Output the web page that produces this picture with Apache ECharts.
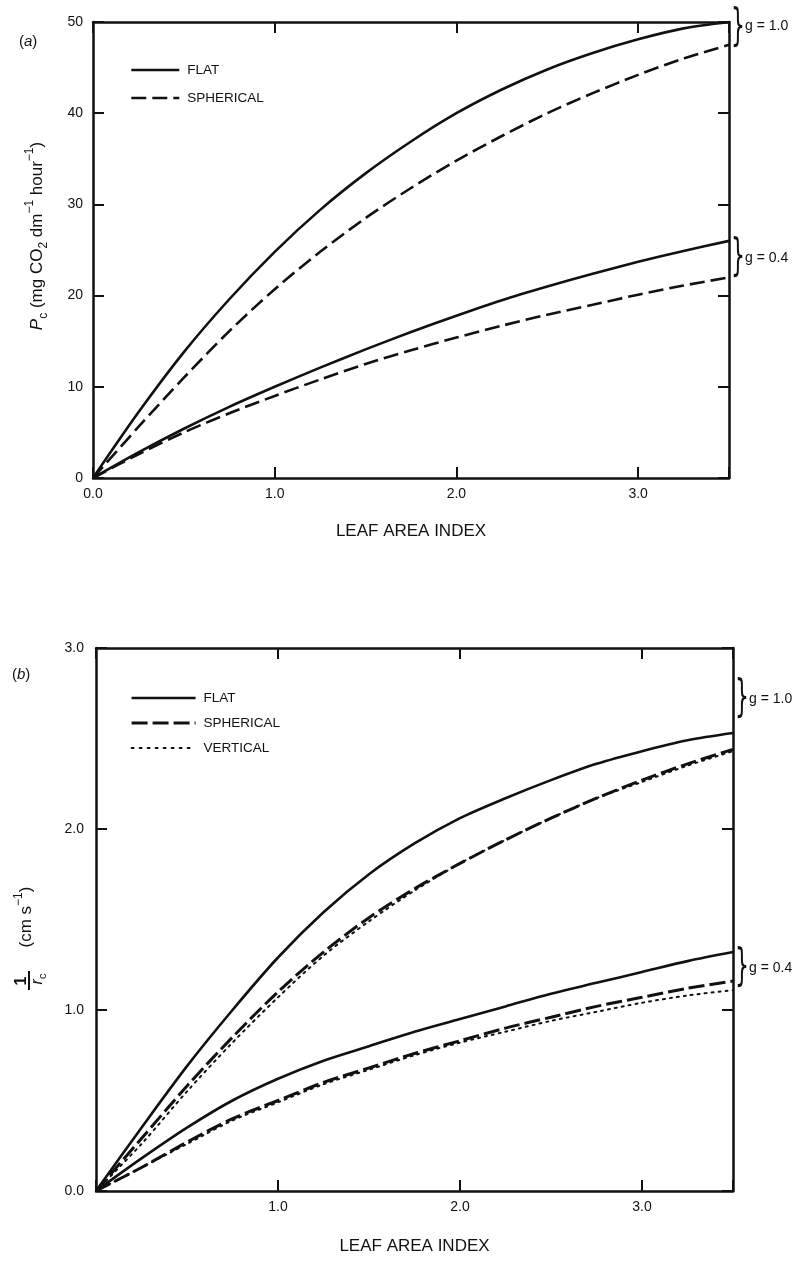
<!DOCTYPE html>
<html><head><meta charset="utf-8">
<script src="https://cdn.jsdelivr.net/npm/echarts@6/dist/echarts.min.js"></script>
<style>html,body{margin:0;padding:0;background:#fff}#c{width:809px;height:1261px}</style>
</head><body><div id="c"></div><script>
// Leaf area index sample points
const lai = [0, 0.25, 0.5, 0.75, 1.0, 1.25, 1.5, 1.75, 2.0, 2.25, 2.5, 2.75, 3.0, 3.25, 3.5];
// Panel (a): canopy photosynthesis Pc
const aFlatG10 = [0, 7.2, 13.8, 19.6, 24.8, 29.4, 33.4, 36.9, 40.0, 42.6, 44.8, 46.6, 48.1, 49.3, 50.0];
const aSphG10  = [0, 5.6, 11.0, 16.1, 20.7, 24.8, 28.5, 31.8, 34.8, 37.5, 40.0, 42.2, 44.2, 46.0, 47.5];
const aFlatG04 = [0, 2.8, 5.4, 7.8, 10.0, 12.1, 14.1, 16.0, 17.8, 19.5, 21.0, 22.4, 23.7, 24.9, 26.0];
const aSphG04  = [0, 2.6, 5.0, 7.1, 9.0, 10.8, 12.5, 14.0, 15.4, 16.7, 17.9, 19.0, 20.1, 21.1, 22.0];
// Panel (b): canopy conductance 1/rc
const bFlatG10 = [0, 0.35, 0.69, 1.0, 1.29, 1.54, 1.75, 1.92, 2.06, 2.17, 2.27, 2.36, 2.43, 2.49, 2.53];
const bSphG10  = [0, 0.29, 0.58, 0.85, 1.1, 1.32, 1.51, 1.67, 1.81, 1.94, 2.06, 2.17, 2.27, 2.36, 2.44];
const bVerG10  = [0, 0.26, 0.55, 0.82, 1.07, 1.3, 1.49, 1.66, 1.81, 1.94, 2.06, 2.17, 2.26, 2.35, 2.43];
const bFlatG04 = [0, 0.18, 0.35, 0.5, 0.62, 0.72, 0.8, 0.88, 0.95, 1.02, 1.09, 1.15, 1.21, 1.27, 1.32];
const bSphG04  = [0, 0.13, 0.27, 0.4, 0.5, 0.6, 0.68, 0.76, 0.83, 0.9, 0.96, 1.02, 1.07, 1.12, 1.16];
const bVerG04  = [0, 0.13, 0.26, 0.39, 0.49, 0.59, 0.67, 0.75, 0.82, 0.88, 0.94, 0.99, 1.04, 1.08, 1.11];
// Tick labels
const xTicks = [0, 1, 2, 3];
const aYTicks = [0, 10, 20, 30, 40, 50];
const bYTicks = [0, 1, 2, 3];
const legendA = ['FLAT', 'SPHERICAL'];
const legendB = ['FLAT', 'SPHERICAL', 'VERTICAL'];

const FONT = 'Liberation Sans, Arial, sans-serif';
const BLACK = '#111';
const zip = ys => lai.map((x, i) => [x, ys[i]]);

const chart = echarts.init(document.getElementById('c'), null, {renderer: 'canvas'});

function baseAxis(extra) {
  return Object.assign({
    type: 'value',
    axisLine: {show: true, onZero: false, lineStyle: {color: BLACK, width: 2.5}},
    axisTick: {show: true, inside: true, length: 11, lineStyle: {color: BLACK, width: 2}},
    splitLine: {show: false},
    axisLabel: {color: BLACK, fontFamily: FONT, fontSize: 14}
  }, extra);
}

const solid = {color: BLACK, width: 2.6, type: 'solid'};
const dashed = {color: BLACK, width: 2.6, type: [15, 6]};
const dashedB = {color: BLACK, width: 3, type: [16, 5]};
const dotted = {color: BLACK, width: 2, type: [2, 5], cap: 'round'};

function line(name, xi, ys, ls) {
  return {name, type: 'line', xAxisIndex: xi, yAxisIndex: xi, data: zip(ys), smooth: 0.3,
    showSymbol: false, symbol: 'none', lineStyle: ls, color: BLACK, silent: true, z: 3};
}

const nameStyle = {color: BLACK, fontFamily: FONT, fontSize: 17};
const legendText = {color: BLACK, fontFamily: FONT, fontSize: 13.5, padding: [0, 0, 0, 3]};
const hiddenSymbol = {color: 'transparent', borderColor: 'transparent', borderWidth: 0, opacity: 0};

const option = {
  animation: false,
  backgroundColor: '#fff',
  grid: [
    {left: 93, top: 22, width: 636, height: 456},
    {left: 96, top: 648, width: 637, height: 543}
  ],
  xAxis: [
    baseAxis({gridIndex: 0, min: 0, max: 3.5, interval: 1, position: 'bottom',
      name: 'LEAF AREA INDEX', nameLocation: 'middle', nameGap: 45, nameTextStyle: nameStyle,
      axisLabel: {color: BLACK, fontFamily: FONT, fontSize: 14, margin: 9,
        formatter: v => xTicks.includes(v) ? v.toFixed(1) : ''}}),
    baseAxis({gridIndex: 1, min: 0, max: 3.5, interval: 1, position: 'bottom',
      name: 'LEAF AREA INDEX', nameLocation: 'middle', nameGap: 47, nameTextStyle: nameStyle,
      axisLabel: {color: BLACK, fontFamily: FONT, fontSize: 14, margin: 9,
        formatter: v => (xTicks.includes(v) && v !== 0) ? v.toFixed(1) : ''}}),
    baseAxis({gridIndex: 0, min: 0, max: 3.5, interval: 1, position: 'top', axisLabel: {show: false}}),
    baseAxis({gridIndex: 1, min: 0, max: 3.5, interval: 1, position: 'top', axisLabel: {show: false}})
  ],
  yAxis: [
    baseAxis({gridIndex: 0, min: 0, max: 50, interval: 10, position: 'left',
      axisLabel: {color: BLACK, fontFamily: FONT, fontSize: 14, margin: 10,
        formatter: v => aYTicks.includes(v) ? String(v) : ''}}),
    baseAxis({gridIndex: 1, min: 0, max: 3, interval: 1, position: 'left',
      axisLabel: {color: BLACK, fontFamily: FONT, fontSize: 14, margin: 12,
        formatter: v => bYTicks.includes(v) ? v.toFixed(1) : ''}}),
    baseAxis({gridIndex: 0, min: 0, max: 50, interval: 10, position: 'right', axisLabel: {show: false}}),
    baseAxis({gridIndex: 1, min: 0, max: 3, interval: 1, position: 'right', axisLabel: {show: false}})
  ],
  legend: [
    {orient: 'vertical', left: 125, top: 58, itemWidth: 48, itemHeight: 14, itemGap: 14,
      selectedMode: false, textStyle: legendText, itemStyle: hiddenSymbol,
      data: [
        {name: legendA[0], lineStyle: {width: 2.6, type: 'solid', color: BLACK}},
        {name: legendA[1], lineStyle: {width: 2.6, type: [15, 6], color: BLACK}}
      ]},
    {orient: 'vertical', left: 125, top: 686, itemWidth: 64, itemHeight: 12, itemGap: 11,
      selectedMode: false, textStyle: legendText, itemStyle: hiddenSymbol,
      data: [
        {name: legendB[0], lineStyle: {width: 2.4, type: 'solid', color: BLACK}},
        {name: legendB[1], lineStyle: {width: 3.2, type: [16, 5], color: BLACK}},
        {name: legendB[2], lineStyle: {width: 2, type: [2, 6], cap: 'round', color: BLACK}}
      ]}
  ],
  series: [
    line('FLAT', 0, aFlatG10, solid),
    line('SPHERICAL', 0, aSphG10, dashed),
    line('FLAT', 0, aFlatG04, solid),
    line('SPHERICAL', 0, aSphG04, dashed),
    line('FLAT', 1, bFlatG10, solid),
    line('SPHERICAL', 1, bSphG10, dashedB),
    line('VERTICAL', 1, bVerG10, dotted),
    line('FLAT', 1, bFlatG04, solid),
    line('SPHERICAL', 1, bSphG04, dashedB),
    line('VERTICAL', 1, bVerG04, dotted)
  ],
  graphic: [
    // panel labels
    {type: 'text', left: 19, top: 34, style: {text: '({i|a})', fill: BLACK, font: '15px ' + FONT,
      rich: {i: {fontStyle: 'italic', fontSize: 15, fontFamily: FONT, fill: BLACK}}}},
    {type: 'text', left: 12, top: 667, style: {text: '({i|b})', fill: BLACK, font: '15px ' + FONT,
      rich: {i: {fontStyle: 'italic', fontSize: 15, fontFamily: FONT, fill: BLACK}}}},
    // y title panel a
    {type: 'text', x: 37, y: 236, rotation: Math.PI / 2,
      style: {text: '{i|P}{sub|c} (mg CO{sub|2} dm{sup|−1} hour{sup|−1})', fill: BLACK,
        fontFamily: FONT, fontSize: 17, lineHeight: 26, align: 'center', verticalAlign: 'middle',
        rich: {
          i: {fontStyle: 'italic', fontSize: 17, lineHeight: 26, fontFamily: FONT, fill: BLACK},
          sub: {fontSize: 12, lineHeight: 14, verticalAlign: 'bottom', fontFamily: FONT, fill: BLACK},
          sup: {fontSize: 12, lineHeight: 14, verticalAlign: 'top', fontFamily: FONT, fill: BLACK}
        }}},
    // y title panel b : fraction 1 / rc
    {type: 'text', x: 22, y: 981, rotation: Math.PI / 2,
      style: {text: '1', fill: BLACK, fontFamily: FONT, fontSize: 16, fontWeight: 'bold',
        align: 'center', verticalAlign: 'middle'}},
    {type: 'line', shape: {x1: 29, y1: 971, x2: 29, y2: 990}, style: {stroke: BLACK, lineWidth: 2}},
    {type: 'text', x: 38, y: 979, rotation: Math.PI / 2,
      style: {text: '{i|r}{sub|c}', fill: BLACK, fontFamily: FONT, fontSize: 16, lineHeight: 20,
        align: 'center', verticalAlign: 'middle',
        rich: {
          i: {fontStyle: 'italic', fontSize: 16, lineHeight: 20, fontFamily: FONT, fill: BLACK},
          sub: {fontSize: 11, lineHeight: 12, verticalAlign: 'bottom', fontFamily: FONT, fill: BLACK}
        }}},
    {type: 'text', x: 26, y: 917, rotation: Math.PI / 2,
      style: {text: '(cm s{sup|−1})', fill: BLACK, fontFamily: FONT, fontSize: 17, lineHeight: 26,
        align: 'center', verticalAlign: 'middle',
        rich: {sup: {fontSize: 12, lineHeight: 14, verticalAlign: 'top', fontFamily: FONT, fill: BLACK}}}},
    // braces and g labels
    {type: 'text', x: 731, y: 29, scaleX: 0.5, style: {text: '}', fill: BLACK, fontFamily: 'DejaVu Sans', fontSize: 44, align: 'left', verticalAlign: 'middle'}},
    {type: 'text', left: 745, top: 19, style: {text: 'g = 1.0', fill: BLACK, fontFamily: FONT, fontSize: 14}},
    {type: 'text', x: 731, y: 259, scaleX: 0.5, style: {text: '}', fill: BLACK, fontFamily: 'DejaVu Sans', fontSize: 44, align: 'left', verticalAlign: 'middle'}},
    {type: 'text', left: 745, top: 251, style: {text: 'g = 0.4', fill: BLACK, fontFamily: FONT, fontSize: 14}},
    {type: 'text', x: 735, y: 700, scaleX: 0.5, style: {text: '}', fill: BLACK, fontFamily: 'DejaVu Sans', fontSize: 44, align: 'left', verticalAlign: 'middle'}},
    {type: 'text', left: 749, top: 692, style: {text: 'g = 1.0', fill: BLACK, fontFamily: FONT, fontSize: 14}},
    {type: 'text', x: 735, y: 969, scaleX: 0.5, style: {text: '}', fill: BLACK, fontFamily: 'DejaVu Sans', fontSize: 44, align: 'left', verticalAlign: 'middle'}},
    {type: 'text', left: 749, top: 961, style: {text: 'g = 0.4', fill: BLACK, fontFamily: FONT, fontSize: 14}}
  ]
};
chart.setOption(option);
</script></body></html>
